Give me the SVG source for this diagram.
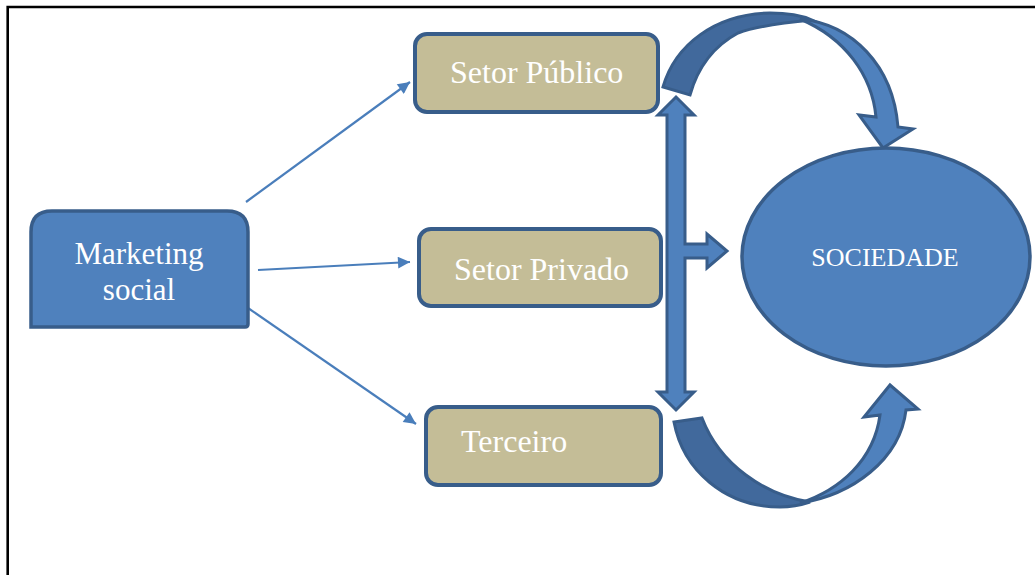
<svg xmlns="http://www.w3.org/2000/svg" width="1035" height="575" viewBox="0 0 1035 575">
<defs>
<style>
.frame{stroke:#000;stroke-width:2.6;fill:none}
.blue{fill:#4f81bd;stroke:#385d8a;stroke-width:3.5}
.tan{fill:#c4bd97;stroke:#385d8a;stroke-width:4}
.dark{fill:#41699c;stroke:#385d8a;stroke-width:3}
.light{fill:#4f81bd;stroke:#385d8a;stroke-width:3}
.conn{stroke:#4a7ebb;stroke-width:2.2;fill:none}
.lbl{font-family:"Liberation Serif","Times New Roman",serif;fill:#fff;font-size:32px}
</style>
<marker id="ah" viewBox="0 0 10 10" refX="10" refY="5" markerWidth="15" markerHeight="12" markerUnits="userSpaceOnUse" orient="auto">
<path d="M0,0 L10,5 L0,10 z" fill="#4a7ebb"/>
</marker>
</defs>
<rect width="1035" height="575" fill="#fff"/>
<path class="frame" d="M7.7,575 L7.7,7 L1035,7"/>

<g id="connectors">
<line class="conn" x1="246" y1="202" x2="410" y2="82" marker-end="url(#ah)"/>
<line class="conn" x1="258" y1="270" x2="410" y2="262" marker-end="url(#ah)"/>
<line class="conn" x1="248" y1="308" x2="416" y2="424" marker-end="url(#ah)"/>
<path class="light" d="M676,97 L694,115 L685,115 L685,244 L707,244 L707,234 L727,251 L707,268 L707,258 L685,258 L685,392 L694,392 L676,410 L658,392 L667,392 L667,115 L658,115 Z"/>
<path class="dark" d="M663,87 C675,45 715,14 770,13 C790,13 803,16 812,20 C790,22 760,25 738,33 C712,47 697,70 690,95 Z"/>
<path class="light" d="M800,19 C852,24 893,65 898,127 L913,129 L883,148 L859,115 L876,117 C872,75 845,38 800,19 Z"/>
<path class="dark" d="M674,422 C683,470 725,507 780,507 C792,507 801,505 810,502 C765,495 720,465 702,418 Z"/>
<path class="light" d="M800,503 C852,495 900,460 906,410 L918,409 L890,385 L864,417 L880,415 C874,460 840,490 800,503 Z"/>
</g>

<g id="marketing">
<path class="blue" d="M31,327 L31,232 Q31,211 52,211 L227,211 Q248,211 248,232 L248,324 Q248,327 245,327 Z"/>
<text class="lbl" x="139" y="264" text-anchor="middle" style="font-size:31px">Marketing</text>
<text class="lbl" x="139" y="300" text-anchor="middle" style="font-size:31px">social</text>
</g>

<g id="publico">
<rect class="tan" x="415" y="34" width="243" height="78" rx="12"/>
<text class="lbl" x="450" y="83">Setor Público</text>
</g>

<g id="privado">
<rect class="tan" x="419" y="229" width="242" height="77" rx="12"/>
<text class="lbl" x="454" y="280">Setor Privado</text>
</g>

<g id="terceiro">
<rect class="tan" x="426" y="407" width="235" height="78" rx="12"/>
<text class="lbl" x="461" y="452">Terceiro</text>
</g>

<g id="sociedade">
<ellipse class="blue" cx="886" cy="257" rx="144" ry="109"/>
<text class="lbl" x="885" y="266" text-anchor="middle" style="font-size:26px">SOCIEDADE</text>
</g>
</svg>
